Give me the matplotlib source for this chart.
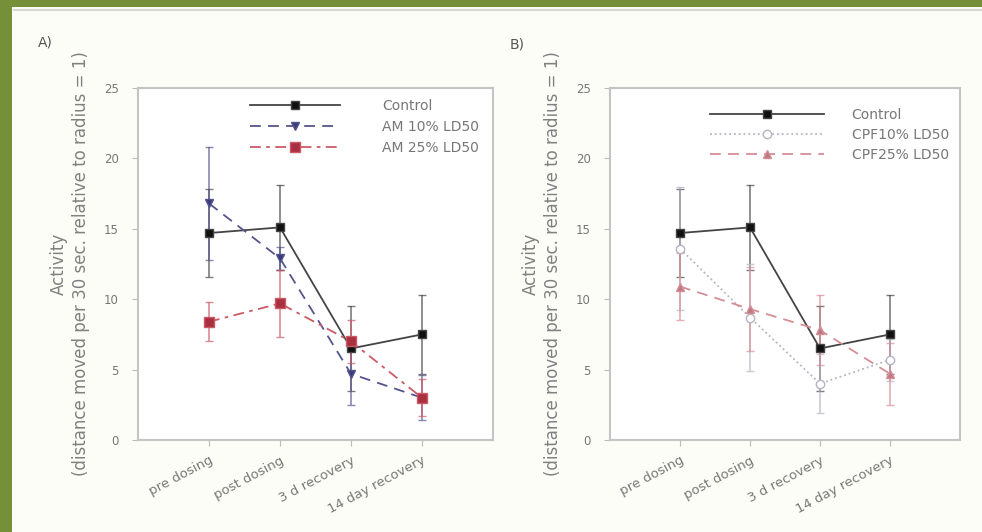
import matplotlib.pyplot as plt
import matplotlib.patches as mpatches

stages = ["pre dosing", "post dosing", "3 d recovery", "14 day recovery"]
x = [1, 2, 3, 4]

ctrl = [14.7, 15.1, 6.5, 7.5]
ctrl_err = [3.1, 3.0, 3.0, 2.8]

am10 = [16.8, 12.9, 4.7, 3.0]
am10_err = [4.0, 0.8, 2.2, 1.6]
am25 = [8.4, 9.7, 7.0, 3.0]
am25_err = [1.4, 2.4, 1.5, 1.3]

cpf10 = [13.6, 8.7, 4.0, 5.7]
cpf10_err = [4.4, 3.8, 2.1, 1.5]
cpf25 = [10.9, 9.3, 7.8, 4.7]
cpf25_err = [2.4, 3.0, 2.5, 2.2]

yticks = [0, 5, 10, 15, 20, 25]
ylab = "Activity\n(distance moved per 30 sec. relative to radius = 1)"

fig = plt.figure(figsize=(9.82, 5.32), dpi=100, facecolor="#76903a")
# off-white page inside the green frame
page = mpatches.Rectangle((12 / 982, 0), 1, 1 - 7 / 532, transform=fig.transFigure,
                          facecolor="#fdfdf8", edgecolor="none", zorder=-10)
fig.add_artist(page)
fig.add_artist(plt.Line2D([14 / 982, 1], [1 - 10 / 532] * 2, transform=fig.transFigure,
                          color="#d8d8d0", lw=1.5, zorder=-9))

axA = fig.add_axes([138 / 982, 92 / 532, 355 / 982, 352 / 532])
axB = fig.add_axes([610 / 982, 92 / 532, 350 / 982, 352 / 532])


def series(ax, y, err, color, ls, marker, mfc, label, lw=1.3, ms=6):
    ax.errorbar(x, y, yerr=err, fmt="none", ecolor=color, elinewidth=1.2, capsize=3, alpha=0.7, zorder=2)
    ax.plot(x, y, color=color, ls=ls, lw=lw, marker=marker, ms=ms, mfc=mfc, mec=color, label=label, zorder=3)


series(axA, ctrl, ctrl_err, "#444444", "-", "s", "#111111", "Control")
series(axA, am10, am10_err, "#55558e", (0, (6, 4)), "v", "#3b3b78", "AM 10% LD50")
series(axA, am25, am25_err, "#cc5a66", (0, (6, 3, 2, 3)), "s", "#a83040", "AM 25% LD50", ms=7)

series(axB, ctrl, ctrl_err, "#444444", "-", "s", "#111111", "Control")
series(axB, cpf10, cpf10_err, "#b4b4c4", ":", "o", "white", "CPF10% LD50")
series(axB, cpf25, cpf25_err, "#d58e96", (0, (6, 4)), "^", "#c07880", "CPF25% LD50")

for ax in (axA, axB):
    ax.set_xlim(0, 5)
    ax.set_ylim(0, 25)
    ax.set_yticks(yticks)
    ax.set_xticks(x)
    ax.set_xticklabels(stages, rotation=28, ha="right", rotation_mode="anchor", fontsize=9.5, color="#777777")
    ax.tick_params(axis="y", labelsize=8.5, labelcolor="#777777", color="#bbbbbb", length=4, pad=10)
    ax.tick_params(axis="x", color="#bbbbbb", length=4, pad=6)
    for s in ax.spines.values():
        s.set_color("#c4c4c4")
        s.set_linewidth(1.5)
    ax.set_ylabel(ylab, fontsize=12, color="#808080", labelpad=10, linespacing=1.3)
    ax.set_facecolor("white")

axA.legend(loc="upper left", bbox_to_anchor=(0.3, 0.985), frameon=False, fontsize=10,
           handlelength=6.5, handletextpad=3.0, labelspacing=0.5, numpoints=1, labelcolor="#777777",
           borderaxespad=0)
axB.legend(loc="upper left", bbox_to_anchor=(0.27, 0.96), frameon=False, fontsize=10,
           handlelength=8.2, handletextpad=2.0, labelspacing=0.45, numpoints=1, labelcolor="#777777",
           borderaxespad=0)

fig.text(38 / 982, 1 - 46 / 532, "A)", fontsize=10, color="#555555")
fig.text(510 / 982, 1 - 49 / 532, "B)", fontsize=10, color="#555555")

fig.savefig("out.png", dpi=100, facecolor=fig.get_facecolor())
